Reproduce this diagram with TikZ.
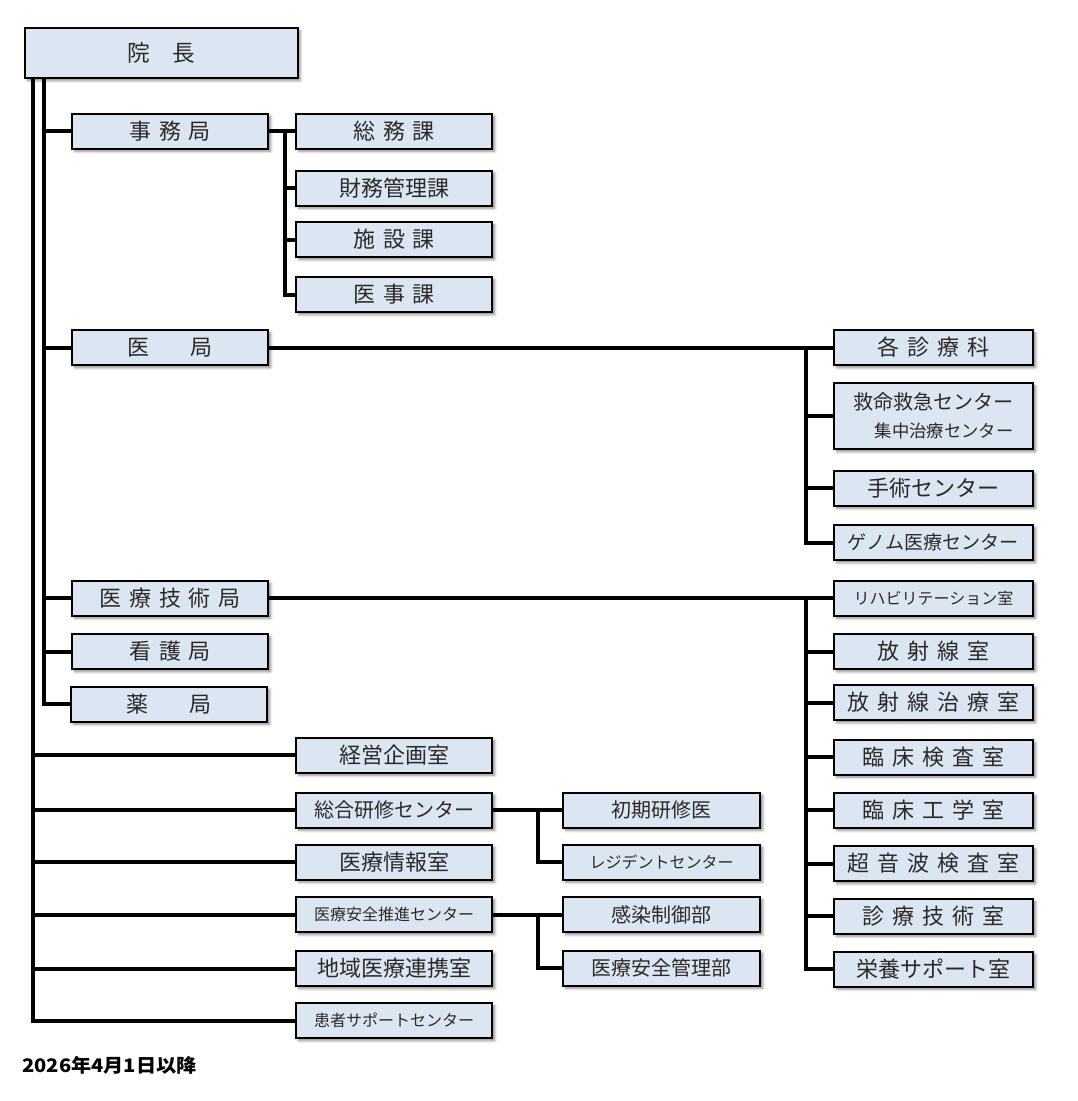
\documentclass[tikz,border=0pt]{standalone}
\usepackage{fontspec}
\setmainfont{Noto Sans CJK JP}
\usetikzlibrary{shadows.blur,backgrounds}
\definecolor{boxfill}{HTML}{DCE6F2}
\definecolor{txt}{HTML}{2A2A2A}
\newcommand\szL{\fontsize{16.5pt}{20pt}\selectfont}
\newcommand\szM{\fontsize{15pt}{19pt}\selectfont}
\newcommand\szG{\fontsize{14.3pt}{18pt}\selectfont}
\newcommand\szS{\fontsize{12pt}{15pt}\selectfont}
\newcommand\gp{\hspace{0.36em}}
\newcommand\wgp{\hspace{1.85em}}
\tikzset{
  orgbox/.style={draw=black, line width=1.5pt, fill=boxfill, text=txt, inner sep=0pt,
    minimum height=26.25pt, font=\szL,
    blur shadow={shadow xshift=2pt, shadow yshift=-2pt, shadow blur radius=2pt, shadow opacity=45}},
  colA/.style={orgbox, minimum width=147pt},
  colB/.style={orgbox, minimum width=147pt},
  colC/.style={orgbox, minimum width=147.75pt},
  colD/.style={orgbox, minimum width=149.25pt},
  conn/.style={line width=3pt, draw=black}
}
\begin{document}
\begin{tikzpicture}[x=0.75pt, y=-0.75pt]
\useasboundingbox (0,0) rectangle (1078,1101);
% top
\node[orgbox, minimum width=204.75pt, minimum height=37.5pt, font=\fontsize{17pt}{20pt}\selectfont] (inchou) at (161,53) {院\hspace{1em}長};
% column A
\node[colA] (jimu) at (170,131) {事\gp 務\gp 局};
\node[colA] (ikyoku) at (170,347.5) {医\wgp 局};
\node[colA] (gijutsu) at (170,598) {医\gp 療\gp 技\gp 術\gp 局};
\node[colA] (kango) at (170,651.5) {看\gp 護\gp 局};
\node[colA] (yaku) at (169,704) {薬\wgp 局};
% column B
\node[colB] (somu) at (394,131) {総\gp 務\gp 課};
\node[colB] (zaimu) at (394,188) {財務管理課};
\node[colB] (shisetsu) at (394,239.5) {施\gp 設\gp 課};
\node[colB] (iji) at (394,294.5) {医\gp 事\gp 課};
\node[colB] (keiei) at (394,755) {経営企画室};
\node[colB, font=\szM] (kenshu) at (394,810) {総合研修センター};
\node[colB] (joho) at (394,862) {医療情報室};
\node[colB, font=\szS] (anzen) at (394,914.5) {医療安全推進センター};
\node[colB] (chiiki) at (394,968.5) {地域医療連携室};
\node[colB, font=\szS] (kanja) at (394,1020.5) {患者サポートセンター};
% column C
\node[colC, font=\szM] (shoki) at (661.5,810) {初期研修医};
\node[colC, font=\szS] (resident) at (661.5,862) {レジデントセンター};
\node[colC, font=\szM] (kansen) at (661.5,914.5) {感染制御部};
\node[colC, font=\szM] (anzenkanri) at (661.5,968) {医療安全管理部};
% column D
\node[colD] (kaku) at (933.5,347.5) {各\gp 診\gp 療\gp 科};
\node[colD, minimum height=49.5pt, align=right, font=\fontsize{15pt}{21pt}\selectfont] (kyumei) at (933.5,416) {救命救急センター\\{\fontsize{13pt}{21pt}\selectfont 集中治療センター}};
\node[colD] (shujutsu) at (933.5,488) {手術センター};
\node[colD, font=\szG] (genome) at (933.5,542.5) {ゲノム医療センター};
\node[colD, font=\szS] (reha) at (933.5,598) {リハビリテーション室};
\node[colD] (hoshasen) at (933.5,651.5) {放\gp 射\gp 線\gp 室};
\node[colD] (chiryo) at (933.5,702.5) {放\gp 射\gp 線\gp 治\gp 療\gp 室};
\node[colD] (kensa) at (933.5,757) {臨\gp 床\gp 検\gp 査\gp 室};
\node[colD] (kogaku) at (933.5,810) {臨\gp 床\gp 工\gp 学\gp 室};
\node[colD] (choonpa) at (933.5,863.5) {超\gp 音\gp 波\gp 検\gp 査\gp 室};
\node[colD] (shinryo) at (933.5,916) {診\gp 療\gp 技\gp 術\gp 室};
\node[colD] (eiyo) at (933.5,969) {栄養サポート室};
% footer
\node[anchor=west, inner sep=0pt, font=\fontsize{14pt}{16pt}\selectfont\bfseries] (date) at (22,1065) {\scalebox{1.08}[1]{2026年4月1日以降}};
% connectors
\begin{pgfonlayer}{background}
\path (inchou.south west) ++(9,0) coordinate (L1) ++(11,0) coordinate (L2);
\coordinate (J) at (285,0);
\coordinate (M) at (806,0);
\coordinate (K) at (538,0);
% main line 1
\draw[conn] (L1) |- (kanja.west);
\foreach \n in {keiei,kenshu,joho,anzen,chiiki} \draw[conn] (\n.west -| L1) -- (\n.west);
% main line 2
\draw[conn] (L2) |- (yaku.west);
\foreach \n in {jimu,ikyoku,gijutsu,kango} \draw[conn] (\n.west -| L2) -- (\n.west);
% jimukyoku
\draw[conn] (jimu.east) -- (somu.west);
\draw[conn] (jimu.east -| J) |- (iji.west);
\foreach \n in {zaimu,shisetsu} \draw[conn] (\n.west -| J) -- (\n.west);
% ikyoku
\draw[conn] (ikyoku.east) -- (kaku.west);
\draw[conn] (ikyoku.east -| M) |- (genome.west);
\foreach \n in {kyumei,shujutsu} \draw[conn] (\n.west -| M) -- (\n.west);
% gijutsu
\draw[conn] (gijutsu.east) -- (reha.west);
\draw[conn] (gijutsu.east -| M) |- (eiyo.west);
\foreach \n in {hoshasen,chiryo,kensa,kogaku,choonpa,shinryo} \draw[conn] (\n.west -| M) -- (\n.west);
% kenshu
\draw[conn] (kenshu.east) -- (shoki.west);
\draw[conn] (kenshu.east -| K) |- (resident.west);
% anzen
\draw[conn] (anzen.east) -- (kansen.west);
\draw[conn] (anzen.east -| K) |- (anzenkanri.west);
\end{pgfonlayer}
\end{tikzpicture}
\end{document}
